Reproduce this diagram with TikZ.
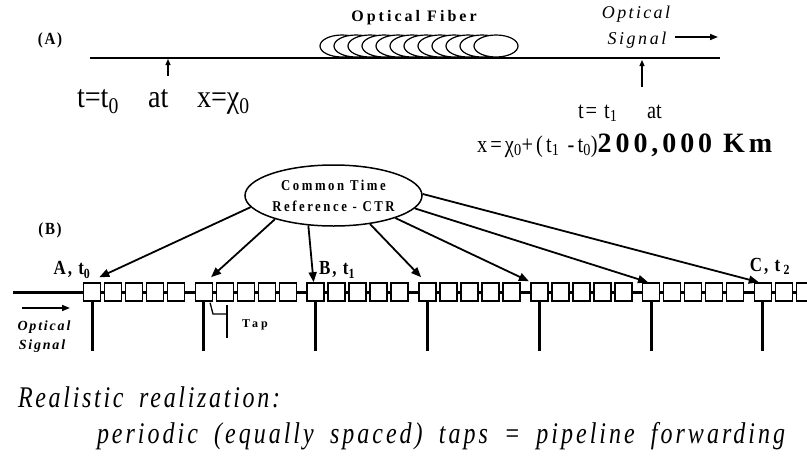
\documentclass[tikz,border=0pt]{standalone}
\usepackage{fontspec}
\setmainfont{Liberation Serif}
\newfontfamily\narA{Liberation Serif}[FakeStretch=0.88]
\newfontfamily\narB{Liberation Serif}[FakeStretch=0.85]
\newfontfamily\narC{Liberation Serif}[FakeStretch=0.8,WordSpace=1.8]
\usetikzlibrary{arrows.meta,shapes.geometric,calc}
\newcommand\fsz[1]{\fontsize{#1}{#1}\selectfont}
\newcommand\lsp[1]{\addfontfeatures{LetterSpace=#1}}
\begin{document}
\begin{tikzpicture}[x=1pt,y=-1pt,
  txt/.style={inner sep=0pt, outer sep=0pt},
  fiber/.style={line width=1.5pt},
  coil/.style={ellipse, draw, line width=1.2pt, fill=white, minimum width=44pt, minimum height=22pt, inner sep=0pt},
  chain/.style={line width=3pt},
  cell/.style={draw, line width=1.6pt, fill=white, minimum width=17pt, minimum height=18pt, inner sep=0pt},
  tapline/.style={line width=3pt},
  ctrarrow/.style={line width=1.8pt, -{Triangle[length=10pt,width=8pt]}},
  uparrow/.style={line width=1.2pt, -{Triangle[length=6pt,width=5pt]}},
  sigarrow/.style={line width=1.5pt, -{Triangle[length=8pt,width=6pt]}},
]
\useasboundingbox (0,0) rectangle (807,456);
% ---------- Part A ----------
\node[txt, font=\narA\fsz{17}\bfseries\lsp{10}] (labA) at (50,40) {(A)};
\coordinate (fL) at (90,58);
\coordinate (fR) at (720,58);
\draw[fiber] (fL) -- (fR);
\foreach \i in {0,...,11} \node[coil] (c\i) at ({342+14*\i},46) {};
\node[txt, font=\fsz{16}\bfseries\lsp{19}] (ofib) at (414,18) {Optical Fiber};
\coordinate (p0) at (168,76); \coordinate (q0) at (168,59);
\draw[uparrow] (p0) -- (q0);
\node[txt, anchor=base west, font=\narA\fsz{32}] (t0) at (77,107) {t=t\textsubscript{0}};
\node[txt, anchor=base west, font=\narA\fsz{32}] (at0) at (148,107) {at};
\node[txt, anchor=base west, font=\narA\fsz{32}] (x0) at (197,107) {x=χ\textsubscript{0}};
\node[txt, font=\fsz{18}\itshape\lsp{13}] (opt1) at (636,14) {Optical};
\node[txt, font=\fsz{18}\itshape\lsp{14}] (sig1) at (637,40) {Signal};
\coordinate (sa) at (675,37); \coordinate (sb) at (718,37);
\draw[sigarrow] (sa) -- (sb);
\coordinate (p1) at (642,87); \coordinate (q1) at (642,60);
\draw[uparrow] (p1) -- (q1);
\node[txt, anchor=base west, font=\narB\fsz{24}\lsp{8}] (t1) at (578,118) {t= t\textsubscript{1}};
\node[txt, anchor=base west, font=\narB\fsz{24}] (at1) at (647,118) {at};
\node[txt, anchor=base west, font=\narB\fsz{24}\lsp{13}] (form) at (477,152) {x=χ\textsubscript{0}+(t\textsubscript{1} -t\textsubscript{0})\rmfamily\bfseries\fsz{28}\lsp{14}200,000 Km};
% ---------- Part B ----------
\node[txt, font=\narA\fsz{17}\bfseries\lsp{10}] (labB) at (50,230) {(B)};
\node[ellipse, draw, line width=1.5pt, minimum width=177pt, minimum height=61pt, inner sep=0pt, align=center, font=\narB\fsz{15}\bfseries\lsp{17}] (ctr) at (333.5,195.5) {Common Time\\[6pt]Reference - CTR};
\coordinate (cL) at (13,292); \coordinate (cR) at (807,292);
\draw[chain] (cL) -- (cR);
\foreach \k in {0,...,5} {
  \foreach \j in {0,...,4} \node[cell] (b\k-\j) at ({92+111.8*\k+21*\j},292) {};
}
\foreach \j in {0,...,2} \node[cell] (b6-\j) at ({92+111.8*6+21*\j},292) {};
\foreach \k in {0,...,6} {
  \coordinate (tb\k) at ($(b\k-0.south)+(0,49)$);
  \draw[tapline] (b\k-0.south) -- (tb\k);
}
% arrows from CTR
\draw[ctrarrow] (ctr.188.5) -- ($(b0-0.north east)+(-2,-5)$);
\draw[ctrarrow] (ctr.202) -- ($(b1-0.north east)+(-2,-5)$);
\draw[ctrarrow] (ctr.230.8) -- ($(b2-0.north)+(-2,0)$);
\draw[ctrarrow] (ctr.322) -- ($(b3-0.north west)+(3,-5)$);
\draw[ctrarrow] (ctr.340) -- ($(b4-0.north west)+(-1,-1)$);
\draw[ctrarrow] (ctr.351.5) -- ($(b5-0.north)+(-3,0)$);
\draw[ctrarrow] (ctr.1) -- ($(b6-0.north)+(-4,0)$);
% labels
\node[txt, font=\narB\fsz{20}\bfseries\lsp{10}] (lA) at (72,270) {A, t\textsubscript{0}};
\node[txt, font=\narB\fsz{20}\bfseries\lsp{10}] (lB) at (337,270) {B, t\textsubscript{1}};
\node[txt, font=\narB\fsz{20}\bfseries\lsp{10}] (lC) at (770,266) {C, t\,\textsubscript{2}};
% tap
\coordinate (tp1) at ($(b1-0.south east)+(-3,1)$);
\coordinate (tp2) at (213,314); \coordinate (tp3) at (227,314);
\coordinate (tp4) at (227,305); \coordinate (tp5) at (227,338);
\draw[line width=1.3pt] (tp1) -- (tp2) -- (tp3);
\draw[line width=1.3pt] (tp4) -- (tp5);
\node[txt, font=\fsz{12}\bfseries\lsp{25}] (tap) at (255,325) {Tap};
% optical signal (left)
\coordinate (la) at (22,308); \coordinate (lb) at (70,308);
\draw[sigarrow] (la) -- (lb);
\node[txt, font=\fsz{14}\bfseries\itshape\lsp{13}] (opt2) at (44,327) {Optical};
\node[txt, font=\fsz{14}\bfseries\itshape\lsp{13}] (sig2) at (42,346) {Signal};
% bottom text
\node[txt, anchor=base west, font=\narC\fsz{30}\itshape\lsp{9}] (r1) at (18,407) {Realistic realization:};
\node[txt, anchor=base west, font=\narC\fsz{30}\itshape\lsp{10}] (r2) at (97,443) {periodic (equally spaced) taps = pipeline forwarding};
\end{tikzpicture}
\end{document}
